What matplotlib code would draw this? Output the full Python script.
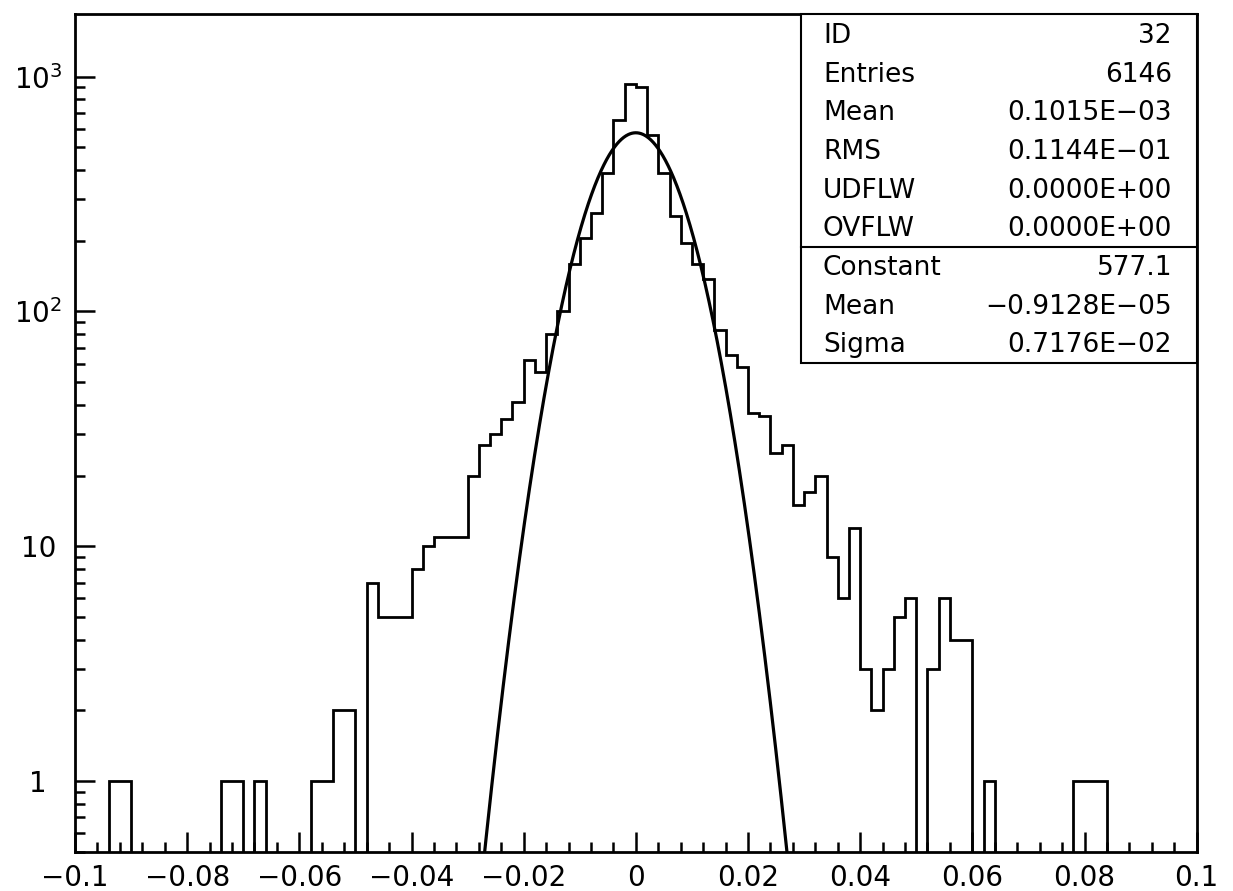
import numpy as np
import matplotlib

matplotlib.use("Agg")
import matplotlib.pyplot as plt
from matplotlib.lines import Line2D
from matplotlib.patches import Rectangle
from matplotlib.ticker import FixedLocator, LogLocator, NullFormatter


# histogram: 100 bins of width 0.002 between -0.1 and 0.1
BIN_LOW = -0.1
BIN_HIGH = 0.1
COUNTS = [
    0, 0, 0, 1, 1, 0, 0, 0, 0, 0,
    0, 0, 0, 1, 1, 0, 1, 0, 0, 0,
    0, 1, 1, 2, 2, 0, 7, 5, 5, 5,
    8, 10, 11, 11, 11, 20, 27, 30, 35, 41,
    62, 55, 80, 100, 160, 205, 263, 390, 653, 933,
    903, 567, 390, 255, 195, 160, 137, 83, 65, 58,
    37, 36, 25, 27, 15, 17, 20, 9, 6, 12,
    3, 2, 3, 5, 6, 0, 3, 6, 4, 4,
    0, 1, 0, 0, 0, 0, 0, 0, 0, 1,
    1, 1, 0, 0, 0, 0, 0, 0, 0, 0,
]

# gaussian fit parameters
FIT_CONSTANT = 577.1
FIT_MEAN = -0.9128e-05
FIT_SIGMA = 0.7176e-02

X_TICKS = [-0.1, -0.08, -0.06, -0.04, -0.02, 0.0, 0.02, 0.04, 0.06, 0.08, 0.1]
X_TICK_LABELS = ["−0.1", "−0.08", "−0.06", "−0.04", "−0.02", "0",
                 "0.02", "0.04", "0.06", "0.08", "0.1"]
Y_TICKS = [1, 10, 100, 1000]
Y_TICK_LABELS = ["1", "10", r"$10^{2}$", r"$10^{3}$"]
Y_LIMITS = (0.5, 1850)

STAT_NAMES = ["ID", "Entries", "Mean", "RMS", "UDFLW", "OVFLW"]
STAT_VALUES = ["32", "6146", "0.1015E−03", "0.1144E−01", "0.0000E+00", "0.0000E+00"]
FIT_NAMES = ["Constant", "Mean", "Sigma"]
FIT_VALUES = ["577.1", "−0.9128E−05", "0.7176E−02"]

WIDTH_PX = 1233
HEIGHT_PX = 891


def fx(px: float) -> float:
    return px / WIDTH_PX


def fy(py: float) -> float:
    return 1.0 - py / HEIGHT_PX


def draw_stats_box(fig) -> None:
    left, right = 801, 1196.7
    top, split, bottom = 14, 246.7, 363.3
    fig.add_artist(Rectangle((fx(left), fy(bottom)), fx(right) - fx(left),
                             fy(top) - fy(bottom), transform=fig.transFigure,
                             facecolor="white", edgecolor="black", linewidth=1.5))
    fig.add_artist(Line2D([fx(left), fx(right)], [fy(split), fy(split)],
                          transform=fig.transFigure, color="black", linewidth=1.5))

    names = STAT_NAMES + FIT_NAMES
    values = STAT_VALUES + FIT_VALUES
    for row, (name, value) in enumerate(zip(names, values)):
        baseline = 43.3 + 38.6 * row
        fig.text(fx(823), fy(baseline), name, ha="left", va="baseline", fontsize=19)
        fig.text(fx(1172), fy(baseline), value, ha="right", va="baseline", fontsize=19)


def main() -> None:
    plt.rcParams["font.family"] = ["DejaVu Sans"]
    plt.rcParams["mathtext.fontset"] = "dejavusans"

    fig = plt.figure(figsize=(WIDTH_PX / 100, HEIGHT_PX / 100), dpi=100)
    ax = fig.add_axes([fx(75), fy(851.7), fx(1196.7) - fx(75), fy(14) - fy(851.7)])

    counts = np.asarray(COUNTS, dtype=float)
    edges = np.linspace(BIN_LOW, BIN_HIGH, len(counts) + 1)
    floor = 0.1
    shown = np.where(counts > 0, counts, floor)
    ax.stairs(shown, edges, baseline=floor, fill=False, color="black", linewidth=2.0)

    x = np.linspace(FIT_MEAN - 4.5 * FIT_SIGMA, FIT_MEAN + 4.5 * FIT_SIGMA, 800)
    y = FIT_CONSTANT * np.exp(-0.5 * ((x - FIT_MEAN) / FIT_SIGMA) ** 2)
    ax.plot(x, y, color="black", linewidth=2.3)

    ax.set_yscale("log")
    ax.set_xlim(BIN_LOW, BIN_HIGH)
    ax.set_ylim(*Y_LIMITS)

    ax.xaxis.set_major_locator(FixedLocator(X_TICKS))
    ax.set_xticklabels(X_TICK_LABELS)
    ax.xaxis.set_minor_locator(FixedLocator(np.arange(-0.1, 0.1001, 0.004)))
    ax.yaxis.set_major_locator(FixedLocator(Y_TICKS))
    ax.set_yticklabels(Y_TICK_LABELS)
    ax.yaxis.set_minor_locator(LogLocator(base=10, subs=np.arange(2, 10)))
    ax.yaxis.set_minor_formatter(NullFormatter())

    ax.tick_params(which="both", direction="in", top=False, right=False,
                   width=1.8, labelsize=20)
    ax.tick_params(which="major", length=14.5)
    ax.tick_params(which="minor", length=7.5)
    ax.tick_params(axis="x", which="major", pad=9)
    ax.tick_params(axis="y", which="major", pad=26.5)
    for label in ax.get_yticklabels():
        label.set_horizontalalignment("center")

    for spine in ax.spines.values():
        spine.set_linewidth(2.0)

    draw_stats_box(fig)
    fig.savefig("out.png", dpi=100)
    plt.close(fig)


if __name__ == "__main__":
    main()
